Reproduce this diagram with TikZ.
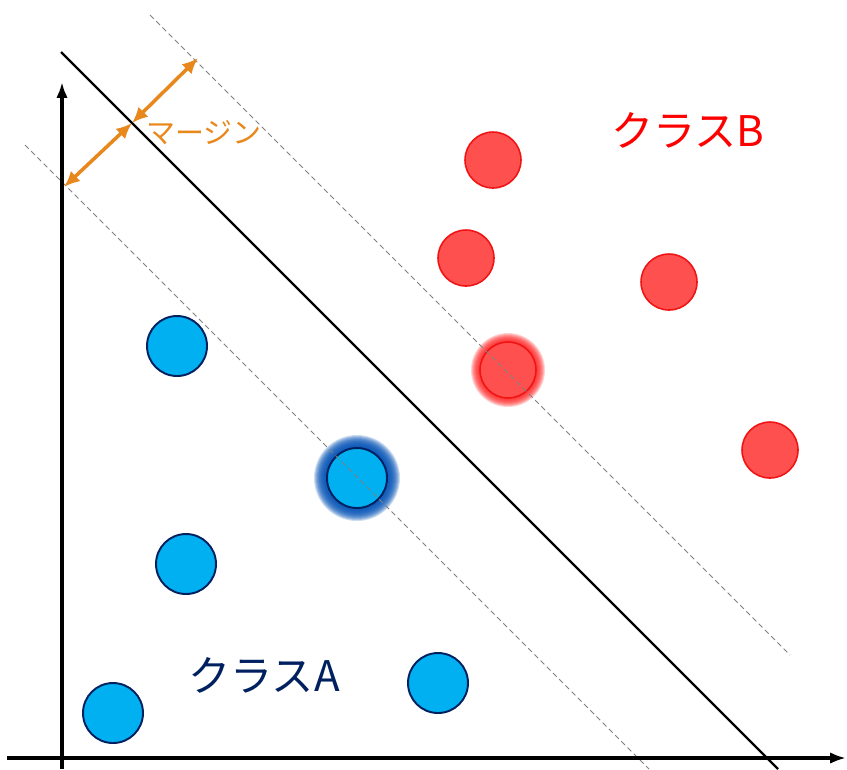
\documentclass[tikz,border=0pt]{standalone}
\usepackage{fontspec}
\setmainfont{Noto Sans CJK JP}
\usetikzlibrary{arrows.meta,backgrounds}
\definecolor{MarginOrange}{RGB}{232,136,28}
\definecolor{ClassRed}{RGB}{255,80,80}
\definecolor{EdgeRed}{RGB}{240,20,20}
\definecolor{ClassBlue}{RGB}{0,176,240}
\definecolor{EdgeNavy}{RGB}{0,32,96}
\definecolor{GlowBlue}{RGB}{0,80,180}
\definecolor{GlowRed}{RGB}{255,30,30}

\begin{document}
\begin{tikzpicture}[
x=0.02cm, y=-0.02cm,
axis/.style={-{Latex[length=9pt,width=6.5pt]}, line width=1.8pt},
hyper/.style={line width=1.4pt},
marginline/.style={gray, line width=0.55pt, dash pattern=on 3pt off 2pt},
span/.style={{Latex[length=9pt,width=8pt]}-{Latex[length=9pt,width=8pt]}, line width=2pt, draw=MarginOrange},
ptA/.style={circle, draw=EdgeNavy, fill=ClassBlue, line width=1.1pt, minimum size=1.2cm, inner sep=0pt},
ptB/.style={circle, draw=EdgeRed, fill=ClassRed, line width=0.9pt, minimum size=1.12cm, inner sep=0pt},
classlabel/.style={font=\fontsize{24}{28}\selectfont},
spanlabel/.style={font=\fontsize{16.5}{20}\selectfont, text=MarginOrange}
]
\useasboundingbox (0,0) rectangle (847,769);

% class A
\node[ptA] (b1) at (177,346) {};
\node[ptA] (b2) at (357,478) {};
\node[ptA] (b3) at (186,564) {};
\node[ptA] (b4) at (438,683) {};
\node[ptA] (b5) at (113,713) {};
% class B
\node[ptB] (r1) at (493,160) {};
\node[ptB] (r2) at (466,258) {};
\node[ptB] (r3) at (669,282) {};
\node[ptB] (r4) at (508,370) {};
\node[ptB] (r5) at (770,450) {};

% support vectors glow
\begin{scope}[on background layer]
\foreach \r in {0.86,0.84,...,0.62}
  \fill[GlowBlue, opacity=0.2] (b2) circle[radius=\r cm];
\foreach \r in {0.74,0.72,...,0.56}
  \fill[GlowRed, opacity=0.2] (r4) circle[radius=\r cm];
\end{scope}

\coordinate (h1) at (61,52);
\coordinate (h2) at (778,769);
\coordinate (u1) at (150,15);
\coordinate (u2) at (790,655);
\coordinate (l1) at (25,145);
\coordinate (l2) at (649,769);
\draw[marginline] (u1) -- (u2);
\draw[marginline] (l1) -- (l2);
\draw[hyper] (h1) -- (h2);

\coordinate (ox) at (7,758);
\coordinate (xe) at (846,758);
\coordinate (oy) at (62,769);
\coordinate (ye) at (62,82);
\draw[axis] (ox) -- (xe);
\draw[axis] (oy) -- (ye);

\coordinate (m0) at (64,187);
\coordinate (m1) at (132,123);
\coordinate (m2) at (198,58);
\draw[span] (m0) -- (m1);
\draw[span] (m1) -- (m2);

\node[spanlabel] (mlab) at (204,133) {マージン};
\node[classlabel, text=EdgeNavy] (la) at (264,675) {クラスA};
\node[classlabel, text=red] (lb) at (688,130) {クラスB};
\end{tikzpicture}
\end{document}
